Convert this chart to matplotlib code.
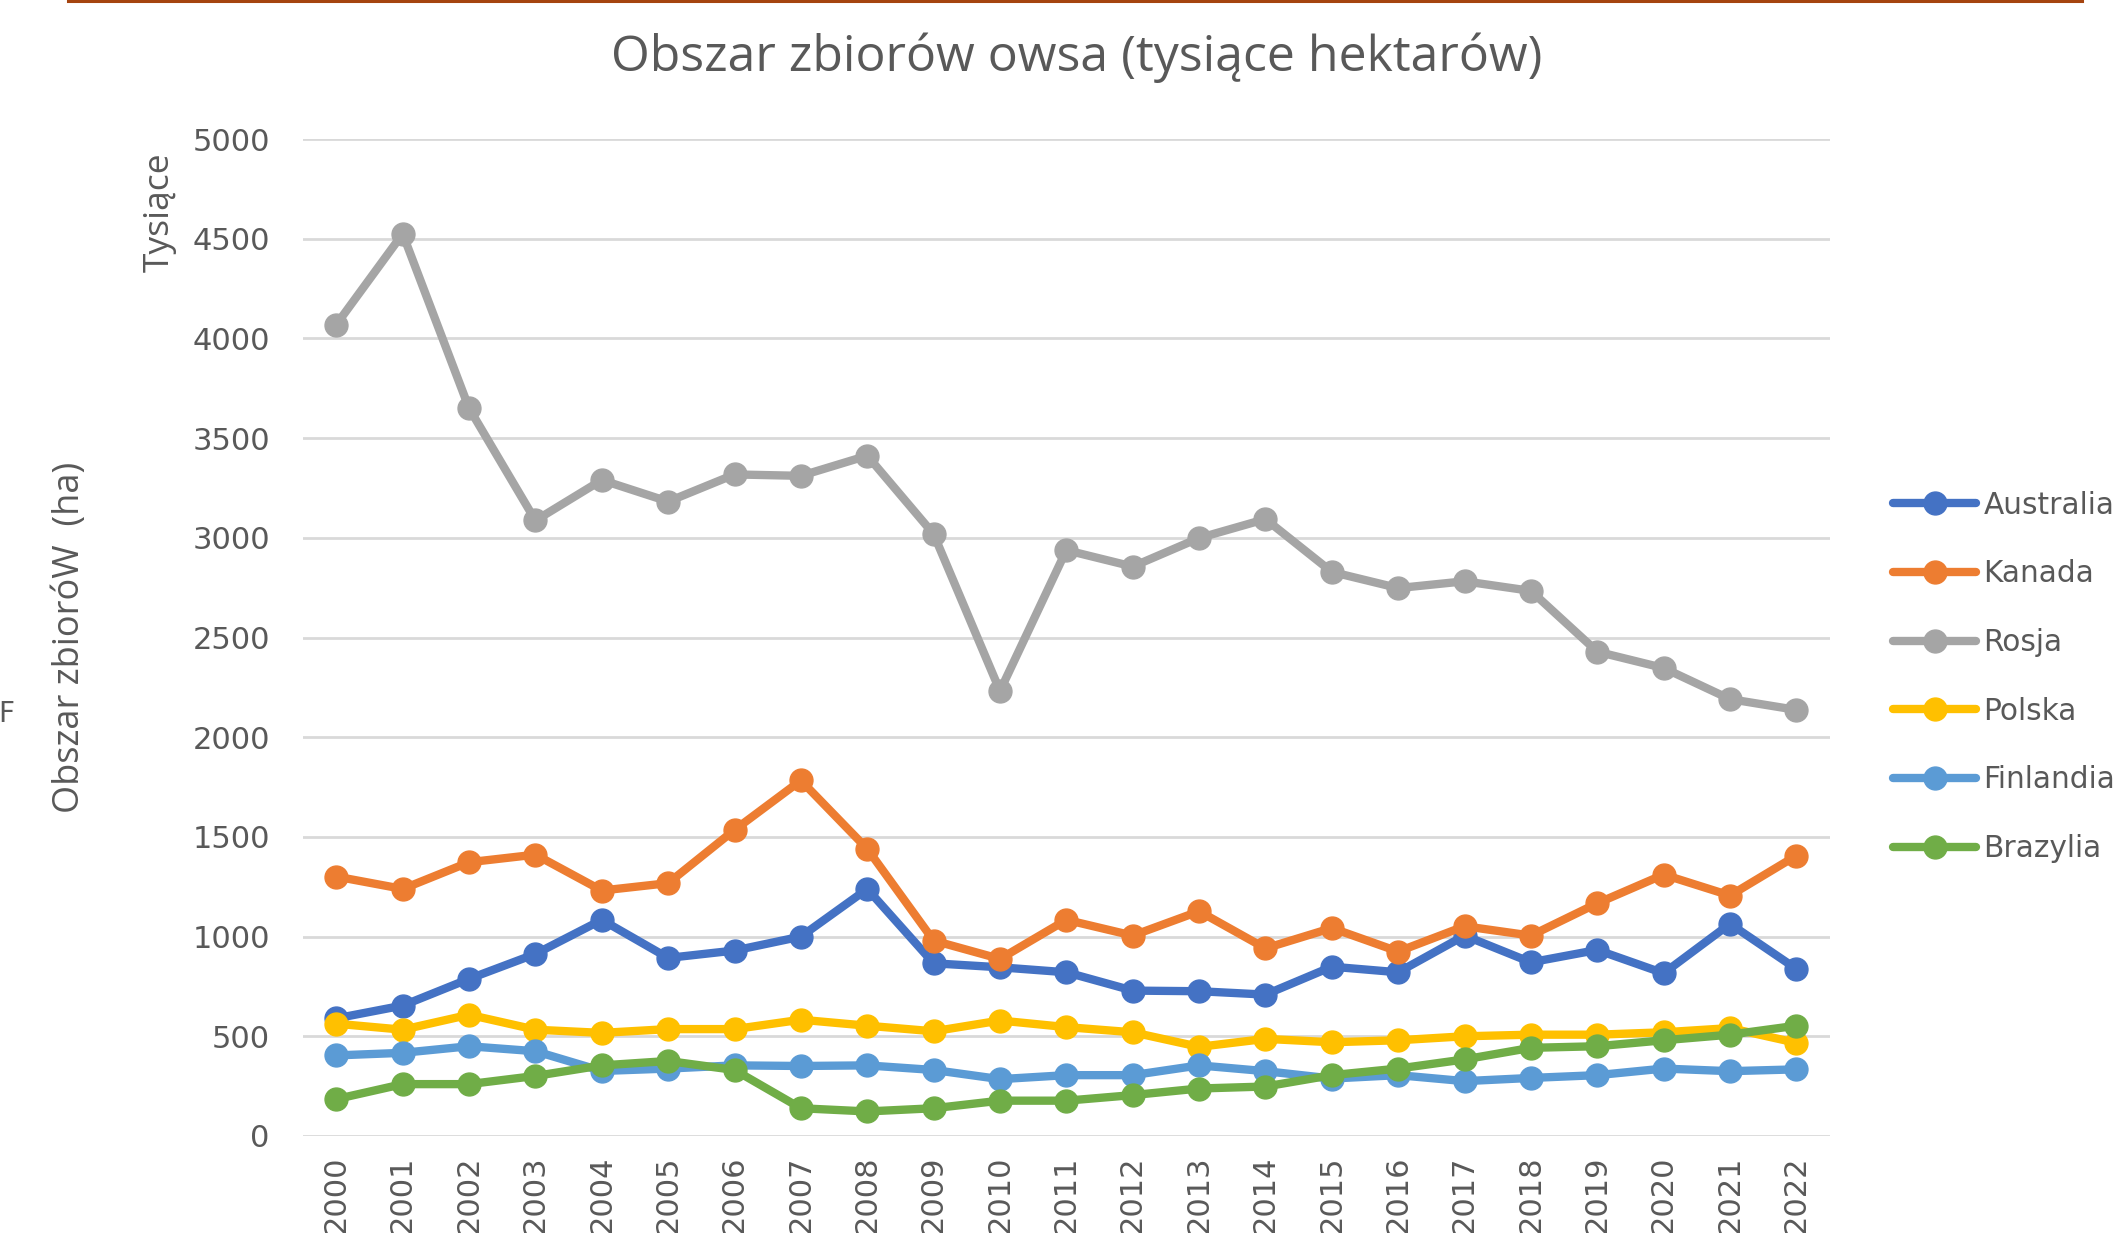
import matplotlib
matplotlib.use("Agg")
import matplotlib.pyplot as plt
from matplotlib.lines import Line2D

years = [str(y) for y in range(2000, 2023)]

australia = [590, 654, 788, 913, 1084, 893, 930, 1000, 1239, 866, 846, 821, 729,
             726, 709, 849, 821, 1005, 871, 933, 816, 1064, 838]
kanada = [1301, 1239, 1373, 1411, 1231, 1268, 1535, 1783, 1440, 980, 888, 1084, 1005,
          1127, 941, 1043, 925, 1052, 1005, 1167, 1311, 1206, 1406]
rosja = [4070, 4525, 3650, 3087, 3290, 3182, 3318, 3311, 3412, 3019, 2232, 2938, 2856,
         2999, 3094, 2829, 2748, 2782, 2734, 2429, 2347, 2191, 2137]
polska = [563, 533, 608, 533, 517, 536, 536, 583, 553, 525, 579, 546, 520,
          447, 487, 470, 480, 500, 508, 508, 520, 541, 467]
finlandia = [404, 417, 450, 425, 326, 338, 354, 351, 354, 331, 285, 305, 305,
             354, 325, 288, 305, 275, 291, 305, 338, 325, 334]
brazylia = [185, 260, 260, 301, 354, 376, 331, 139, 123, 139, 177, 177, 205,
            238, 248, 305, 338, 384, 442, 450, 480, 508, 553]

series_names = ["Australia", "Kanada", "Rosja", "Polska", "Finlandia", "Brazylia"]
series_values = [australia, kanada, rosja, polska, finlandia, brazylia]
colors = ["#4472C4", "#ED7D31", "#A5A5A5", "#FFC000", "#5B9BD5", "#70AD47"]
yticks = [0, 500, 1000, 1500, 2000, 2500, 3000, 3500, 4000, 4500, 5000]

TXT = "#595959"
LW = 6
MS = 16.5

fig = plt.figure(figsize=(21.2, 12.33), dpi=100)
ax = fig.add_axes([0.143, 0.0787, 0.720, 0.8085])

x = list(range(len(years)))
for name, vals, c in zip(series_names, series_values, colors):
    ax.plot(x, vals, color=c, lw=LW, marker="o", markersize=MS,
            solid_capstyle="round", label=name, zorder=3)

ax.set_xlim(-0.5, len(years) - 0.5)
ax.set_ylim(0, 5000)
ax.set_yticks(yticks)
ax.set_yticklabels([str(v) for v in yticks])
ax.set_xticks(x)
ax.set_xticklabels(years, rotation=90)
ax.tick_params(axis="both", length=0, labelsize=22, colors=TXT)
ax.tick_params(axis="y", pad=24)
ax.tick_params(axis="x", pad=14)
ax.grid(axis="y", color="#D9D9D9", lw=2, zorder=0)
for s in ax.spines.values():
    s.set_visible(False)

fig.text(0.508, 0.953, "Obszar zbiorów owsa (tysiące hektarów)", ha="center",
         va="center", fontsize=36, color=TXT, family="Open Sans")
fig.text(0.0332, 0.483, "Obszar zbioróW  (ha)", rotation=90, ha="center",
         va="center", fontsize=26, color=TXT, family="Open Sans")
fig.text(0.0753, 0.828, "Tysiące", rotation=90, ha="center", va="center",
         fontsize=25.5, color=TXT, family="Open Sans")
fig.text(-0.001, 0.421, "F", ha="left", va="center", fontsize=20, color=TXT)

# top rule
fig.add_artist(Line2D([0.032, 0.982], [0.9995, 0.9995], color="#A5440F", lw=2.2))

handles = [Line2D([], [], color=c, lw=LW, marker="o", markersize=MS,
                  solid_capstyle="round") for c in colors]
leg = fig.legend(handles, series_names, loc="center left",
                 bbox_to_anchor=(0.893, 0.451), frameon=False, fontsize=21.3,
                 handlelength=2.8, handletextpad=0.25, labelspacing=1.34,
                 borderaxespad=0, borderpad=0)
for t in leg.get_texts():
    t.set_color(TXT)

fig.savefig("out.png", dpi=100)
